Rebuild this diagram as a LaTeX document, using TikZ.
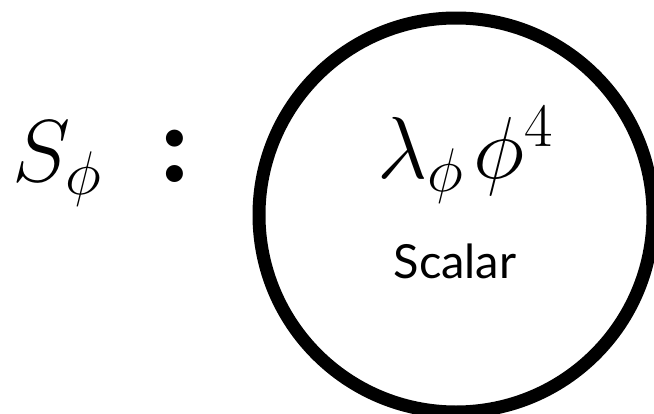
\RequirePackage{fix-cm}
\documentclass[tikz,border=0pt]{standalone}
\usepackage{fontspec}
\newfontfamily\labelfont{Lato}
\usetikzlibrary{positioning}
\tikzset{
  bigmath/.style={inner sep=0pt, font=\fontsize{88}{100}\selectfont},
  bigcolon/.style={inner sep=0pt, font=\bfseries\fontsize{118}{130}\selectfont},
  smalltext/.style={inner sep=0pt, font=\labelfont\fontsize{47}{55}\selectfont}
}
\begin{document}
\begin{tikzpicture}[x=1pt, y=-1pt]
    % Page
    \useasboundingbox (0,0) rectangle (654,413);
    % Circle
    \node (sphere) [circle, draw, line width=13pt, minimum size=394pt, inner sep=0pt] at (456,215) {};
    % Action
    \node (action) [bigmath, anchor=base west] at (12,181) {$S_{\phi}$};
    \node (colon) [bigcolon, anchor=base] at (175,182) {:};
    % Coupling
    \node (coupling) [bigmath, anchor=base] at (465,178) {$\lambda_{\phi}\mskip2mu\phi^{4}$};
    \node (kind) [smalltext, anchor=base] at (455,278) {Scalar};
\end{tikzpicture}
\end{document}
